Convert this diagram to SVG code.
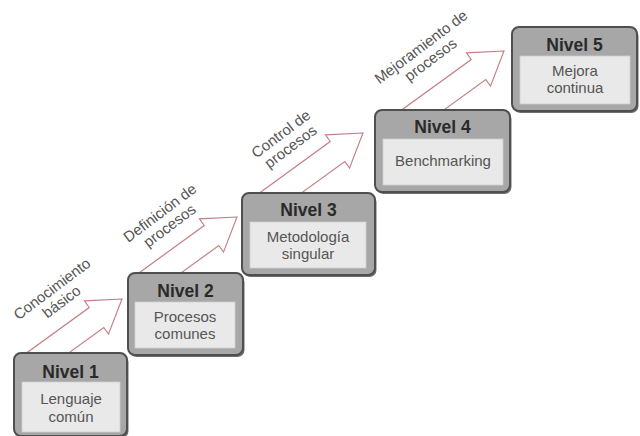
<svg xmlns="http://www.w3.org/2000/svg" width="640" height="436" viewBox="0 0 640 436">
<style>
.arrow{fill:#ffffff;stroke:#c47f86;stroke-width:1.2;stroke-linejoin:miter}
.shadow{fill:#6e6e6e}
.outer{fill:#a7a7a7;stroke:#4f4f4f;stroke-width:2}
.inner{fill:#e9e9e9;stroke:#cfcfcf;stroke-width:0.8}
.title{font-family:"Liberation Sans",Arial,sans-serif;font-weight:bold;font-size:17.5px;fill:#2a2a2a;text-anchor:middle}
.body{font-family:"Liberation Sans",Arial,sans-serif;font-size:15px;fill:#555555;text-anchor:middle}
.lbl{font-family:"Liberation Sans",Arial,sans-serif;font-size:15px;fill:#555555;text-anchor:middle}
</style>
<rect width="640" height="436" fill="#ffffff"/>
<g id="connectors">
<polygon class="arrow" points="122,299 84.5,300.9 89.2,307.5 19.7,358 61.8,358 103.8,327.5 108.5,334.1"/>
<polygon class="arrow" points="237,217 199.5,218.9 204.2,225.5 132,278 174.1,278 218.8,245.5 223.5,252.1"/>
<polygon class="arrow" points="363,133 325.5,134.9 330.2,141.5 252.5,198 294.6,198 344.8,161.5 349.5,168.1"/>
<polygon class="arrow" points="504,51 466.5,52.9 471.2,59.5 394.8,115 437,115 485.8,79.5 490.5,86.1"/>
</g>
<g id="labels">
<g transform="translate(55,293) rotate(-37)"><text class="lbl" x="0" y="0">Conocimiento</text><text class="lbl" x="0" y="16">básico</text></g>
<g transform="translate(163,217) rotate(-37)"><text class="lbl" x="0" y="0">Definición de</text><text class="lbl" x="0" y="16">procesos</text></g>
<g transform="translate(284,138) rotate(-37)"><text class="lbl" x="0" y="0">Control de</text><text class="lbl" x="0" y="16">procesos</text></g>
<g transform="translate(424,51) rotate(-37)"><text class="lbl" x="0" y="0">Mejoramiento de</text><text class="lbl" x="0" y="16">procesos</text></g>
</g>
<g id="nivel1">
<rect class="shadow" x="15.5" y="355" width="113" height="83" rx="7"/>
<rect class="outer" x="14" y="353" width="113" height="83" rx="7"/>
<rect class="inner" x="22" y="382" width="98" height="50"/>
<text class="title" x="70.5" y="378">Nivel 1</text>
<text class="body" x="71" y="404">Lenguaje</text>
<text class="body" x="71" y="422">común</text>
</g>
<g id="nivel2">
<rect class="shadow" x="129.5" y="275" width="115" height="82" rx="7"/>
<rect class="outer" x="128" y="273" width="115" height="82" rx="7"/>
<rect class="inner" x="135" y="302" width="100" height="46"/>
<text class="title" x="185.5" y="297">Nivel 2</text>
<text class="body" x="185" y="322">Procesos</text>
<text class="body" x="185" y="339">comunes</text>
</g>
<g id="nivel3">
<rect class="shadow" x="243.5" y="195" width="133" height="82" rx="7"/>
<rect class="outer" x="242" y="193" width="133" height="82" rx="7"/>
<rect class="inner" x="250" y="222" width="116" height="46"/>
<text class="title" x="308.5" y="216">Nivel 3</text>
<text class="body" x="308" y="242">Metodología</text>
<text class="body" x="308" y="259">singular</text>
</g>
<g id="nivel4">
<rect class="shadow" x="376.5" y="112" width="135" height="82" rx="7"/>
<rect class="outer" x="375" y="110" width="135" height="82" rx="7"/>
<rect class="inner" x="383" y="139" width="120" height="46"/>
<text class="title" x="442.5" y="133">Nivel 4</text>
<text class="body" x="443" y="166">Benchmarking</text>
</g>
<g id="nivel5">
<rect class="shadow" x="513.5" y="29" width="125" height="84" rx="7"/>
<rect class="outer" x="512" y="27" width="125" height="84" rx="7"/>
<rect class="inner" x="520" y="56" width="110" height="48"/>
<text class="title" x="574.5" y="51">Nivel 5</text>
<text class="body" x="575" y="76">Mejora</text>
<text class="body" x="575" y="93">continua</text>
</g>
</svg>
